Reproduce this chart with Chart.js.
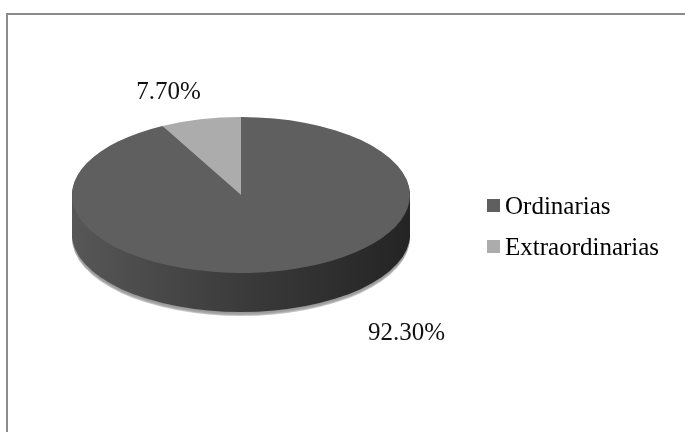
<!DOCTYPE html>
<html>
<head>
<meta charset="utf-8">
<script src="https://cdn.jsdelivr.net/npm/chart.js@4/dist/chart.umd.min.js"></script>
<style>
  html, body { margin:0; padding:0; background:#fff; overflow:hidden; }
  #wrap { position:relative; width:685px; height:432px; overflow:hidden; }
  #frame { position:absolute; left:6px; top:13px; width:720px; height:460px;
           border:2px solid #8b8b8b; box-sizing:border-box; }
  #pie { position:absolute; left:0; top:0; }
  #legend { position:absolute; left:487px; top:185px; margin:0; padding:0; list-style:none;
            font-family:"Liberation Serif","Times New Roman",serif; font-size:25px; color:#000; }
  #legend li { display:flex; align-items:center; height:41px; line-height:41px; white-space:nowrap; }
  #legend .box { width:13px; height:13px; margin-right:5px; flex:none; }
</style>
</head>
<body>
<div id="wrap">
  <div id="frame"></div>
  <canvas id="pie" width="685" height="432"></canvas>
  <ul id="legend"></ul>
</div>
<script>
// ── Data ────────────────────────────────────────────────────────────────
const categories = ['Ordinarias', 'Extraordinarias'];
const shares     = [92.3, 7.7];
const topColors  = ['#5f5f5f', '#acacac'];

// ── 3D look: squash the pie into an ellipse and extrude a side wall ─────
const pie3d = {
  id: 'pie3d',
  beforeDatasetsDraw(chart, args, opts) {
    const ctx  = chart.ctx;
    const arcs = chart.getDatasetMeta(0).data;
    const { x: cx, y: cy, outerRadius: r } = arcs[0];
    const k = opts.tilt;
    ctx.save();
    ctx.translate(0, cy); ctx.scale(1, k); ctx.translate(0, -cy);

    const wall = ctx.createLinearGradient(cx - r, 0, cx + r, 0);
    wall.addColorStop(0, '#575757');
    wall.addColorStop(0.5, '#3b3b3b');
    wall.addColorStop(1, '#242424');

    const layer = (d, fill) => {
      arcs.forEach(a => {
        ctx.beginPath();
        ctx.moveTo(a.x, a.y + d / k);
        ctx.arc(a.x, a.y + d / k, a.outerRadius, a.startAngle, a.endAngle);
        ctx.closePath();
        ctx.fillStyle = fill;
        ctx.fill();
      });
    };
    // faint light rim under the wall
    for (let d = opts.depth + 4; d > opts.depth; d--) layer(d, 'rgba(150,150,150,0.55)');
    for (let d = opts.depth; d > 0; d--) layer(d, wall);
  },
  afterDatasetsDraw(chart) {
    chart.ctx.restore();
  },
  afterDraw(chart, args, opts) {
    // percentage labels placed off each slice's outer edge
    const ctx  = chart.ctx;
    const arcs = chart.getDatasetMeta(0).data;
    const vals = chart.data.datasets[0].data;
    ctx.save();
    ctx.font = '25px "Liberation Serif", "Times New Roman", serif';
    ctx.fillStyle = '#111';
    ctx.textAlign = 'center';
    ctx.textBaseline = 'middle';
    arcs.forEach((a, i) => {
      const mid = (a.startAngle + a.endAngle) / 2;
      let ex = a.x + a.outerRadius * Math.cos(mid);
      let ey = a.y + a.outerRadius * Math.sin(mid) * opts.tilt;
      if (Math.sin(mid) > 0) ey += opts.depth;
      const off = opts.labelOffsets[i];
      ctx.fillText(vals[i].toFixed(2) + '%', ex + off[0], ey + off[1]);
    });
    ctx.restore();
  }
};

const chart = new Chart(document.getElementById('pie'), {
  type: 'pie',
  data: {
    labels: categories,
    datasets: [{
      data: shares,
      backgroundColor: topColors,
      borderWidth: 0,
      clip: false,
    }]
  },
  options: {
    responsive: false,
    animation: false,
    events: [],
    radius: 169,
    layout: { padding: { left: 72, right: 275, top: 26, bottom: 68 } },
    plugins: {
      legend: { display: false },
      tooltip: { enabled: false },
      pie3d: { tilt: 0.4615, depth: 39, labelOffsets: [[125, 24], [-32, -27]] }
    }
  },
  plugins: [pie3d]
});

// ── HTML legend ─────────────────────────────────────────────────────────
const legendEl = document.getElementById('legend');
chart.data.labels.forEach((label, i) => {
  const li  = document.createElement('li');
  const box = document.createElement('span');
  box.className = 'box';
  box.style.background = chart.data.datasets[0].backgroundColor[i];
  li.appendChild(box);
  li.appendChild(document.createTextNode(label));
  legendEl.appendChild(li);
});
</script>
</body>
</html>
